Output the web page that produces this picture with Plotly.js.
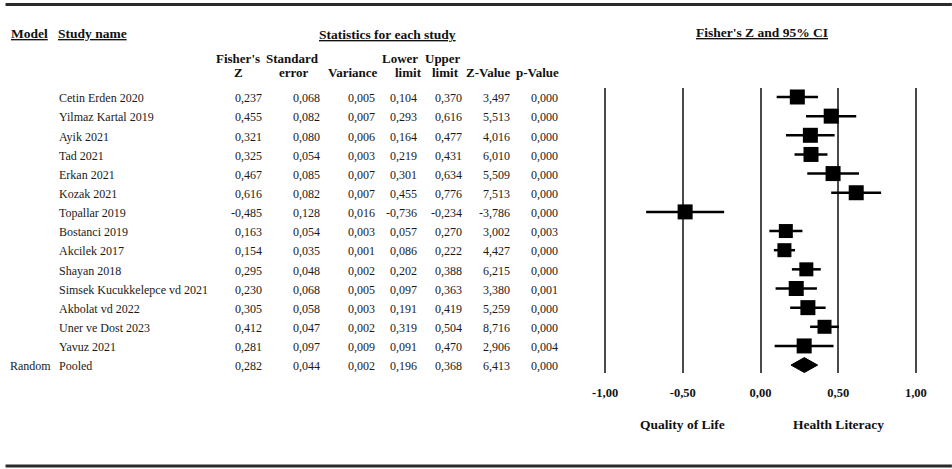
<!DOCTYPE html>
<html>
<head>
<meta charset="utf-8">
<script src="https://cdn.plot.ly/plotly-3.0.1.min.js"></script>
<style>html,body{margin:0;padding:0;background:#fff;}#chart{width:952px;height:469px;}</style>
</head>
<body>
<div id="chart"></div>
<script>
// ---- data ----
const studyNames = ["Cetin Erden 2020","Yilmaz Kartal 2019","Ayik 2021","Tad 2021","Erkan 2021","Kozak 2021","Topallar 2019","Bostanci 2019","Akcilek 2017","Shayan 2018","Simsek Kucukkelepce vd 2021","Akbolat vd 2022","Uner ve Dost 2023","Yavuz 2021"];
const fisherZ    = [0.237, 0.455, 0.321, 0.325, 0.467, 0.616, -0.485, 0.163, 0.154, 0.295, 0.230, 0.305, 0.412, 0.281];
const stdError   = [0.068, 0.082, 0.080, 0.054, 0.085, 0.082, 0.128, 0.054, 0.035, 0.048, 0.068, 0.058, 0.047, 0.097];
const variance   = [0.005, 0.007, 0.006, 0.003, 0.007, 0.007, 0.016, 0.003, 0.001, 0.002, 0.005, 0.003, 0.002, 0.009];
const lowerLimit = [0.104, 0.293, 0.164, 0.219, 0.301, 0.455, -0.736, 0.057, 0.086, 0.202, 0.097, 0.191, 0.319, 0.091];
const upperLimit = [0.370, 0.616, 0.477, 0.431, 0.634, 0.776, -0.234, 0.270, 0.222, 0.388, 0.363, 0.419, 0.504, 0.470];
const zValue     = [3.497, 5.513, 4.016, 6.010, 5.509, 7.513, -3.786, 3.002, 4.427, 6.215, 3.380, 5.259, 8.716, 2.906];
const pValue     = [0.000, 0.000, 0.000, 0.000, 0.000, 0.000, 0.000, 0.003, 0.000, 0.000, 0.001, 0.000, 0.000, 0.004];

const pooledModel = "Random";
const pooledName  = "Pooled";
const pooledStats = {z: 0.282, se: 0.044, v: 0.002, lo: 0.196, hi: 0.368, zv: 6.413, p: 0.000};

const tickValues = [-1, -0.5, 0, 0.5, 1];
const tickLabels = ["-1,00", "-0,50", "0,00", "0,50", "1,00"];
const leftLabel  = "Quality of Life";
const rightLabel = "Health Literacy";

const headLine1 = ["Fisher's", "Standard", "", "Lower", "Upper", "", ""];
const headLine2 = ["Z", "error", "Variance", "limit", "limit", "Z-Value", "p-Value"];

// ---- layout geometry (pixels) ----
const unitPx = 155.5;            // pixels per Fisher's Z unit
const x0Px = 760.5;              // pixel of Z = 0
const xPad = 0.02;               // small range padding so edge grid lines are drawn
const plotL = x0Px - (1 + xPad) * unitPx, plotR = x0Px + (1 + xPad) * unitPx;
const plotT = 87.7, plotB = 373;
const rowY0 = 96.7, rowStep = 19.17;
const px2x = p => (p - plotL) / (plotR - plotL);
const py2y = p => (plotB - p) / (plotB - plotT);

const FONT = "Liberation Serif";
const txtColor = "#1a1a1a";
const bodySize = 12;
const headSize = 13.5;

const fmt = v => v.toFixed(3).replace('.', ',');

const colRight = [264, 322, 377, 419, 464, 512, 560];
const headCenter1 = [238, 292, 353, 400, 443, 488, 537];
const headCenter2 = [238, 294, 353, 408, 445, 488, 537];

const ann = [];
function addText(text, x, y, xanchor, opts) {
  opts = opts || {};
  ann.push({
    text: text, xref: 'paper', yref: opts.yref || 'paper', x: x, y: y,
    xanchor: xanchor, yanchor: 'middle', showarrow: false,
    font: Object.assign({family: FONT, size: bodySize, color: txtColor}, opts.font || {}),
    yshift: opts.yshift || 0
  });
}

// headers
const uFont = {size: headSize, weight: 'bold', color: '#111', lineposition: 'under'};
const hFont = {size: 13, weight: 'bold', color: '#111'};
addText("Model", px2x(8), py2y(33), 'left', {font: uFont});
addText("Study name", px2x(56), py2y(33), 'left', {font: uFont});
addText("Statistics for each study", px2x(387), py2y(34), 'center', {font: uFont});
addText("Fisher's Z and 95% CI", px2x(762), py2y(32), 'center', {font: uFont});
headLine1.forEach((t, k) => { if (t) addText(t, px2x(headCenter1[k]), py2y(57.7), 'center', {font: hFont}); });
headLine2.forEach((t, k) => { if (t) addText(t, px2x(headCenter2[k]), py2y(71.7), 'center', {font: hFont}); });

// rows
const rowIdx = studyNames.map((_, i) => i);
const pooledRow = studyNames.length;
function addRow(i, name, vals, model) {
  if (model) addText(model, px2x(7), i, 'left', {yref: 'y', yshift: -1.3});
  addText(name, px2x(57), i, 'left', {yref: 'y', yshift: -1.3});
  vals.forEach((v, k) => addText(fmt(v), px2x(colRight[k]), i, 'right', {yref: 'y', yshift: -1.3}));
}
studyNames.forEach((n, i) => addRow(i, n, [fisherZ[i], stdError[i], variance[i], lowerLimit[i], upperLimit[i], zValue[i], pValue[i]]));
addRow(pooledRow, pooledName, [pooledStats.z, pooledStats.se, pooledStats.v, pooledStats.lo, pooledStats.hi, pooledStats.zv, pooledStats.p], pooledModel);

// favour labels
[[leftLabel, -0.5], [rightLabel, 0.5]].forEach(([t, xv]) => {
  ann.push({text: t, xref: 'x', yref: 'paper', x: xv, y: py2y(425), xanchor: 'center', yanchor: 'middle',
    showarrow: false, font: {family: FONT, size: 13.5, weight: 'bold', color: '#111'}});
});

const markerSizes = [15, 15, 15, 15, 15, 15, 15, 14, 14, 14, 15, 15, 14, 15];

const traces = [
  {
    type: 'scatter', mode: 'markers', x: fisherZ, y: rowIdx,
    marker: {symbol: 'square', size: markerSizes, color: '#000', opacity: 1, line: {width: 0}},
    error_x: {type: 'data', symmetric: false,
      array: upperLimit.map((u, i) => u - fisherZ[i]),
      arrayminus: lowerLimit.map((l, i) => fisherZ[i] - l),
      color: '#000', thickness: 2.5, width: 0},
    hoverinfo: 'skip', showlegend: false
  },
  {
    type: 'scatter', mode: 'lines',
    x: [pooledStats.lo, pooledStats.z, pooledStats.hi, pooledStats.z, pooledStats.lo],
    y: [pooledRow, pooledRow - 0.39, pooledRow, pooledRow + 0.39, pooledRow],
    fill: 'toself', fillcolor: '#000', line: {color: '#000', width: 1},
    hoverinfo: 'skip', showlegend: false
  }
];

const ruleLine = {color: '#2a2a2a', width: 3};
const layout = {
  width: 952, height: 469,
  margin: {l: plotL, r: 952 - plotR, t: plotT, b: 469 - plotB, pad: 0},
  paper_bgcolor: '#fff', plot_bgcolor: '#fff',
  showlegend: false,
  xaxis: {
    range: [-1 - xPad, 1 + xPad], tickvals: tickValues, ticktext: tickLabels,
    showgrid: true, gridcolor: '#4a4a4a', gridwidth: 2,
    zeroline: false, showline: false,
    ticks: 'outside', ticklen: 8, tickcolor: 'rgba(0,0,0,0)',
    tickfont: {family: FONT, size: 12.5, weight: 'bold', color: '#111'},
    fixedrange: true
  },
  yaxis: {
    range: [(plotB - rowY0) / rowStep, (plotT - rowY0) / rowStep],
    showgrid: false, zeroline: false, showline: false, showticklabels: false, ticks: '',
    fixedrange: true
  },
  annotations: ann,
  shapes: [
    {type: 'line', xref: 'paper', yref: 'paper', x0: px2x(5), x1: px2x(952), y0: py2y(4), y1: py2y(4), line: ruleLine},
    {type: 'line', xref: 'paper', yref: 'paper', x0: px2x(5), x1: px2x(952), y0: py2y(466), y1: py2y(466), line: ruleLine}
  ]
};

Plotly.newPlot('chart', traces, layout, {staticPlot: true, displayModeBar: false});
</script>
</body>
</html>
